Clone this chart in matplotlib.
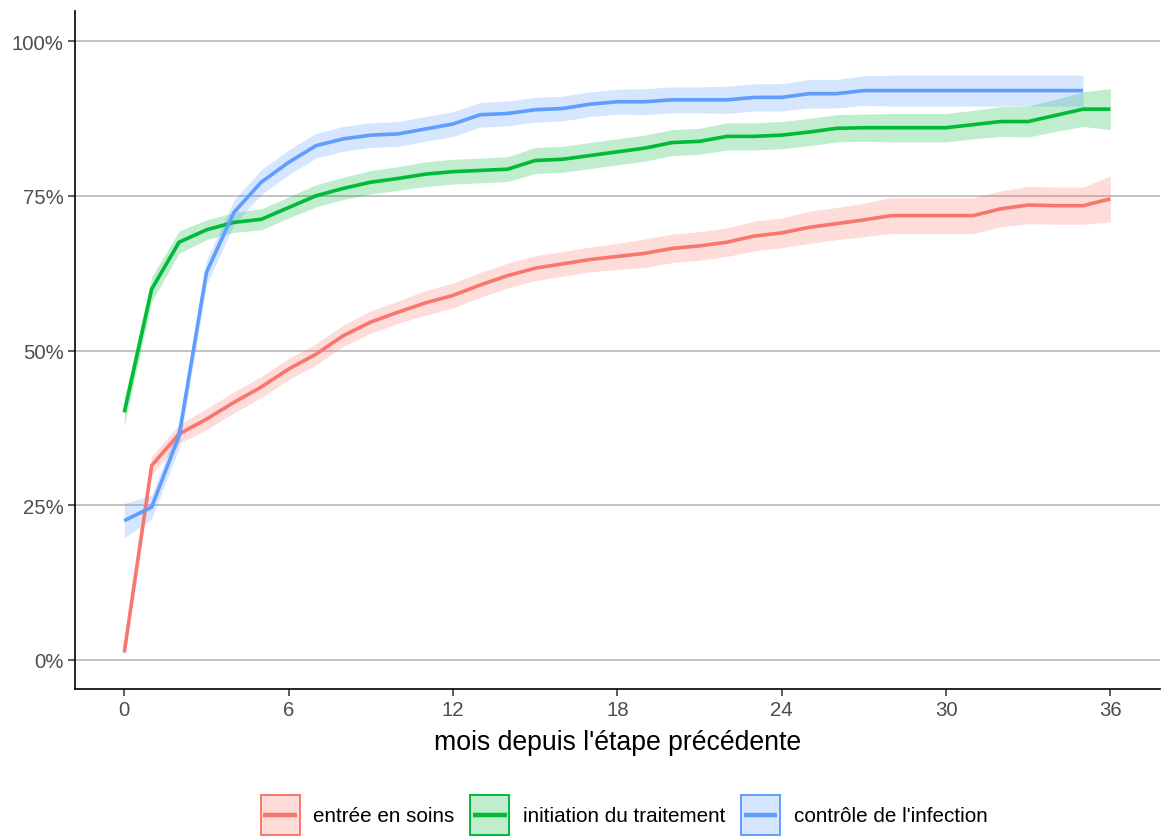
import matplotlib
matplotlib.use("Agg")
import matplotlib.pyplot as plt
from matplotlib.patches import Rectangle
from matplotlib.lines import Line2D
from matplotlib.colors import to_rgba
from matplotlib.ticker import FuncFormatter
import numpy as np

plt.rcParams['font.family'] = ['Liberation Sans', 'DejaVu Sans']

# proportion (%) by month since previous step
months_soins = list(range(37))
soins = [1.2, 31.4, 36.5, 38.9, 41.6, 44.1, 47.0, 49.4, 52.4, 54.6, 56.2, 57.7, 58.9,
         60.6, 62.1, 63.3, 64.0, 64.7, 65.2, 65.7, 66.5, 66.9, 67.5, 68.5, 69.0,
         69.9, 70.5, 71.1, 71.8, 71.8, 71.8, 71.8, 72.9, 73.5, 73.4, 73.4, 74.5]
soins_hw = [0.5, 1.5, 1.5, 1.7, 1.7, 1.7, 1.7, 1.7, 1.7, 1.8, 1.8, 2.0, 2.0,
            2.0, 2.0, 2.0, 2.0, 2.0, 2.1, 2.3, 2.3, 2.3, 2.3, 2.4, 2.4,
            2.6, 2.6, 2.7, 2.9, 2.9, 2.9, 2.9, 2.9, 3.0, 3.0, 3.0, 3.7]

months_trait = list(range(37))
trait = [40.0, 59.9, 67.5, 69.5, 70.7, 71.2, 73.1, 75.0, 76.2, 77.2, 77.8, 78.5, 78.9,
         79.1, 79.3, 80.7, 80.9, 81.5, 82.1, 82.7, 83.6, 83.8, 84.6, 84.6, 84.8,
         85.3, 85.9, 86.0, 86.0, 86.0, 86.0, 86.5, 87.0, 87.0, 88.0, 89.0, 89.0]
trait_hw = [2.2, 2.0, 1.8, 1.6, 1.6, 1.7, 1.7, 1.8, 1.8, 1.9, 1.9, 2.0, 2.0,
            2.0, 2.0, 2.1, 2.1, 2.1, 2.1, 2.1, 2.1, 2.1, 2.2, 2.2, 2.2,
            2.2, 2.2, 2.2, 2.3, 2.3, 2.3, 2.3, 2.4, 2.5, 2.6, 2.8, 3.3]

months_ctrl = list(range(36))
ctrl = [22.5, 24.7, 36.2, 62.6, 72.3, 77.2, 80.4, 83.1, 84.2, 84.8, 85.0, 85.8, 86.6,
        88.1, 88.3, 88.9, 89.1, 89.8, 90.2, 90.2, 90.5, 90.5, 90.5, 90.9, 90.9,
        91.5, 91.5, 92.0, 92.0, 92.0, 92.0, 92.0, 92.0, 92.0, 92.0, 92.0]
ctrl_hw = [2.8, 1.9, 2.0, 2.0, 2.0, 2.0, 2.0, 2.0, 2.0, 2.0, 2.0, 2.0, 2.0,
           2.0, 2.0, 2.0, 2.0, 2.0, 2.0, 2.1, 2.1, 2.1, 2.2, 2.2, 2.2,
           2.3, 2.3, 2.4, 2.5, 2.5, 2.5, 2.5, 2.5, 2.5, 2.5, 2.5]

labels = ["entrée en soins", "initiation du traitement", "contrôle de l'infection"]
colors = ["#F8766D", "#00BA38", "#619CFF"]
series = [(months_soins, soins, soins_hw),
          (months_trait, trait, trait_hw),
          (months_ctrl, ctrl, ctrl_hw)]
fill_alpha = 0.25


# legend key: filled box with coloured border and a line through the middle
class KeyHandler:
    def legend_artist(self, legend, orig_handle, fontsize, handlebox):
        c = orig_handle.get_color()
        x0, y0 = -handlebox.xdescent, -handlebox.ydescent
        w, h = handlebox.width, handlebox.height
        tr = handlebox.get_transform()
        box = Rectangle([x0, y0], w, h, facecolor=to_rgba(c, fill_alpha),
                        edgecolor=c, lw=1.4, transform=tr)
        ln = Line2D([x0 + 2, x0 + w - 2], [y0 + h / 2] * 2, color=c, lw=3.2,
                    solid_capstyle='butt', transform=tr)
        handlebox.add_artist(box)
        handlebox.add_artist(ln)
        return box


fig = plt.figure(figsize=(11.62, 8.37), dpi=100)
ax = fig.add_axes([0.0645, 0.1756, 0.9335, 0.81])

# ribbons first, then lines (ggplot layer order)
for (m, v, hw), c in zip(series, colors):
    v = np.array(v)
    hw = np.array(hw)
    ax.fill_between(m, v - hw, v + hw, color=c, alpha=fill_alpha, lw=0)
lines = []
for (m, v, hw), c in zip(series, colors):
    lines += ax.plot(m, v, color=c, lw=2.6, solid_capstyle='butt')

ax.set_xlim(-1.8, 37.8)
ax.set_ylim(-4.7, 104.85)
ax.set_xticks([0, 6, 12, 18, 24, 30, 36])
ax.set_yticks([0, 25, 50, 75, 100])
ax.yaxis.set_major_formatter(FuncFormatter(lambda y, p: f"{y:.0f}%"))
ax.grid(axis='y', color='#BEBEBE', lw=1.3)
ax.set_axisbelow(True)
for s in ['top', 'right']:
    ax.spines[s].set_visible(False)
for s in ['left', 'bottom']:
    ax.spines[s].set_linewidth(1.2)
    ax.spines[s].set_color('black')
ax.tick_params(axis='both', length=5, width=1.1, color='#333333',
               labelcolor='#4D4D4D', labelsize=14.7, pad=3)
ax.set_xlabel("mois depuis l'étape précédente", fontsize=19.2, color='black', labelpad=7)

fig.legend(lines, labels, handler_map={Line2D: KeyHandler()},
           loc='center', bbox_to_anchor=(0.537, 0.025), ncol=3, frameon=False,
           fontsize=14.9, handlelength=1.9, handleheight=2.6, handletextpad=0.65,
           columnspacing=0.75, borderpad=0)

fig.savefig("out.png", dpi=100)
